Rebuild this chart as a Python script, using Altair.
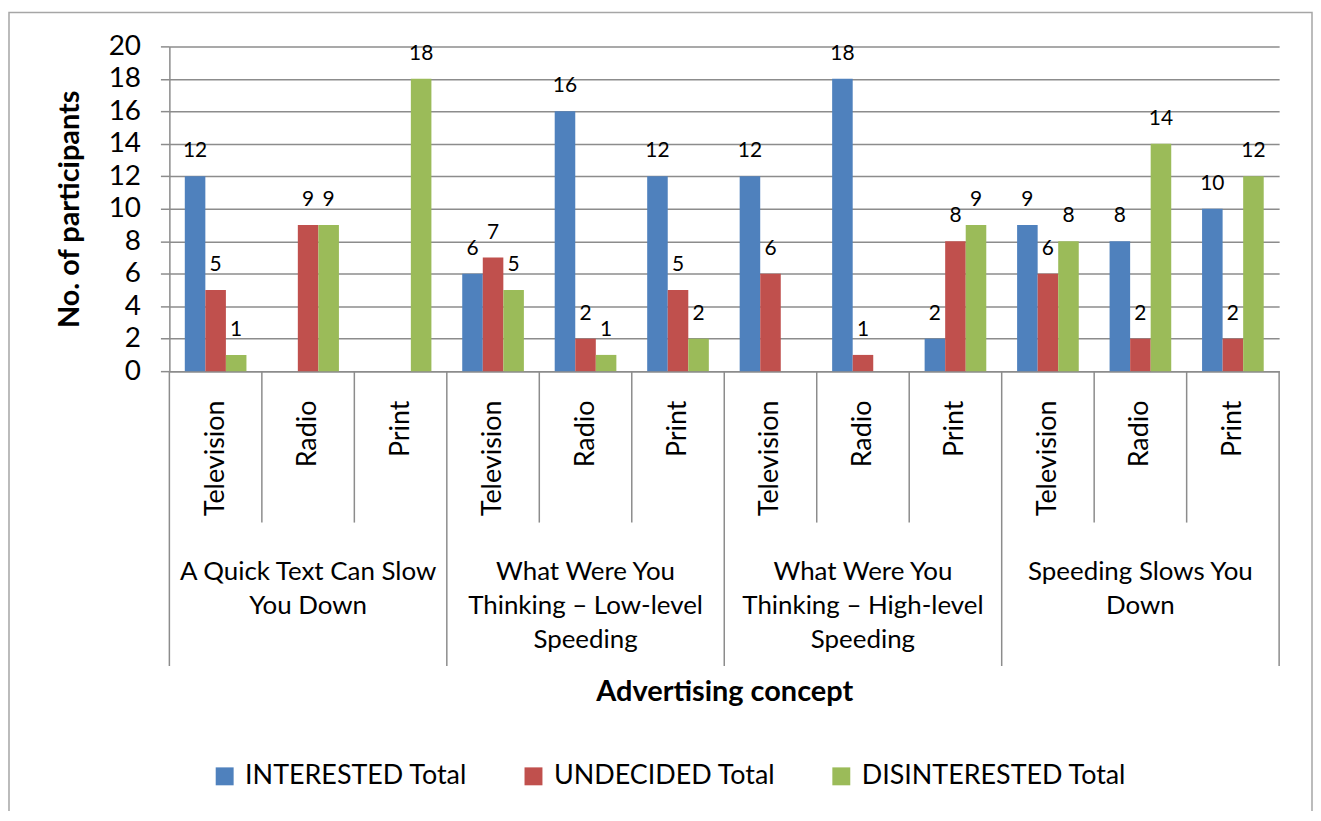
import altair as alt
import pandas as pd

groups = [
    "A Quick Text Can Slow You Down",
    "What Were You Thinking – Low-level Speeding",
    "What Were You Thinking – High-level Speeding",
    "Speeding Slows You Down",
]
group_lines = [
    "A Quick Text Can Slow\nYou Down",
    "What Were You\nThinking – Low-level\nSpeeding",
    "What Were You\nThinking – High-level\nSpeeding",
    "Speeding Slows You\nDown",
]
media = ["Television", "Radio", "Print"]
series = ["INTERESTED Total", "UNDECIDED Total", "DISINTERESTED Total"]
colors = ["#4F81BD", "#C0504D", "#9BBB59"]

interested = [12, 0, 0, 6, 16, 12, 12, 18, 2, 9, 8, 10]
undecided = [5, 9, 0, 7, 2, 5, 6, 1, 8, 6, 2, 2]
disinterested = [1, 9, 18, 5, 1, 2, 0, 0, 9, 8, 14, 12]
y_ticks = [0, 2, 4, 6, 8, 10, 12, 14, 16, 18, 20]

FONT = "Lato"
GRAY = "#8C8C8C"

# ---- build tables ----
keys = []
rows = []
for gi, g in enumerate(groups):
    for mi, m in enumerate(media):
        k = f"{gi}|{m}"
        keys.append(k)
        idx = gi * 3 + mi
        for s, vals in zip(series, [interested, undecided, disinterested]):
            rows.append({"key": k, "group": g, "media": m, "series": s, "value": vals[idx]})
df = pd.DataFrame(rows)

n_cat = len(keys)
group_bounds = pd.DataFrame({"pos": [i * 3 for i in range(len(groups) + 1)]})
inner_bounds = pd.DataFrame({"pos": [i for i in range(n_cat) if i % 3 != 0]})
group_text = pd.DataFrame({"center": [gi * 3 + 1.5 for gi in range(len(groups))], "label": group_lines})

W, H = 1114, 326

x_scale = alt.Scale(paddingInner=1 / 3, paddingOuter=1 / 6)
x_axis = alt.Axis(
    title="Advertising concept",
    labelExpr="split(datum.label, '|')[1]",
    labelAngle=270,
    labelAlign="right",
    labelBaseline="middle",
    labelFontSize=27,
    labelPadding=29,
    labelOverlap=False,
    labelLimit=0,
    labelColor="black",
    ticks=False,
    tickSize=0,
    grid=False,
    domainColor=GRAY,
    domainWidth=1.5,
    titleFontSize=29,
    titleFontWeight="bold",
    titleColor="black",
    titleY=322,
    titleBaseline="middle",
)
y_scale = alt.Scale(domain=[0, 20], nice=False)
y_axis = alt.Axis(
    title="No. of participants",
    values=y_ticks,
    tickCount=11,
    labelOverlap=False,
    grid=True,
    gridColor=GRAY,
    gridWidth=1.5,
    domainColor=GRAY,
    domainWidth=1.5,
    tickColor=GRAY,
    tickWidth=1.5,
    tickSize=9,
    labelFontSize=28,
    labelPadding=20,
    labelColor="black",
    titleFontSize=29,
    titleFontWeight="bold",
    titleColor="black",
    titlePadding=24,
)

base = alt.Chart(df).encode(
    x=alt.X("key:N", sort=keys, scale=x_scale, axis=x_axis),
    xOffset=alt.XOffset("series:N", sort=series),
    y=alt.Y("value:Q", scale=y_scale, axis=y_axis),
)

bars = base.mark_bar().encode(
    color=alt.Color(
        "series:N",
        sort=series,
        scale=alt.Scale(domain=series, range=colors),
        legend=alt.Legend(
            orient="none",
            legendX=42,
            legendY=719,
            direction="horizontal",
            title=None,
            symbolType="square",
            symbolSize=324,
            symbolStrokeWidth=0,
            labelFontSize=27,
            labelLimit=0,
            labelColor="black",
            labelOffset=7,
            columnPadding=52,
            padding=0,
        ),
    ),
)

labels = base.transform_filter("datum.value > 0").mark_text(
    baseline="alphabetic", dy=-19, fontSize=21, color="black"
).encode(text="value:Q")

main = alt.layer(bars, labels)

qx = dict(scale=alt.Scale(domain=[0, n_cat], nice=False, zero=False), axis=None)

group_rules = alt.Chart(group_bounds).mark_rule(color=GRAY, strokeWidth=1.5).encode(
    x=alt.X("pos:Q", **qx), y=alt.value(H), y2=alt.value(H + 296)
)
inner_rules = alt.Chart(inner_bounds).mark_rule(color=GRAY, strokeWidth=1.5).encode(
    x=alt.X("pos:Q", **qx), y=alt.value(H), y2=alt.value(H + 152)
)
group_labels = alt.Chart(group_text).mark_text(
    lineBreak="\n", fontSize=26, lineHeight=34, baseline="top", align="center", color="black"
).encode(x=alt.X("center:Q", **qx), y=alt.value(515), text="label:N")

frame = alt.Chart(alt.Data(values=[{}])).mark_rect(
    filled=False, stroke="#A6A6A6", strokeWidth=1.5
).encode(x=alt.value(-161), x2=alt.value(1147), y=alt.value(-34), y2=alt.value(800))

chart = (
    alt.layer(frame, main, group_rules, inner_rules, group_labels)
    .resolve_scale(x="independent")
    .properties(
        width=W,
        height=H,
        autosize="none",
        padding={"left": 162, "top": 37, "right": 34, "bottom": 440},
    )
    .configure(font=FONT)
    .configure_view(stroke=None)
)

chart.save("out.html", embed_options={"renderer": "svg", "actions": False})
